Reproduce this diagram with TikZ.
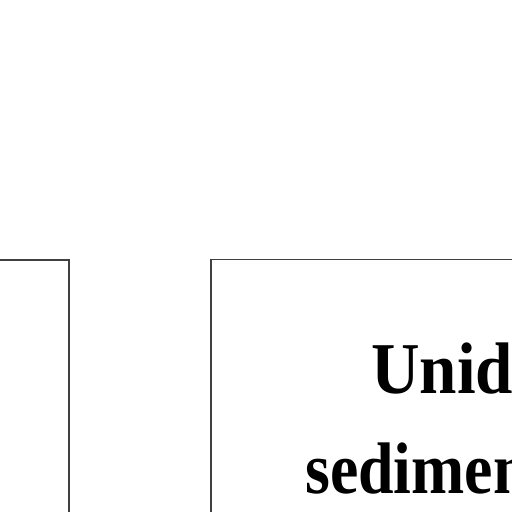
\documentclass[tikz,border=0pt]{standalone}
\usepackage{fontspec}
\setmainfont{Liberation Serif}
\tikzset{
  caja/.style={draw=black!75, line width=1.6pt},
  rotulo/.style={inner sep=0pt, anchor=base west, font=\bfseries\fontsize{73}{80}\selectfont}
}
\newcommand{\estrecho}[2]{\scalebox{#1}[1]{#2}}
\begin{document}
\begin{tikzpicture}[x=1pt,y=-1pt]
    \useasboundingbox (0,0) rectangle (512,512);
    \clip (0,0) rectangle (512,512);

    % Caja izquierda (solo se ve la esquina superior derecha)
    \draw[caja] (-10,260) -- (69,260) -- (69,530);

    % Caja derecha con el texto
    \draw[caja] (211,530) -- (211,259.5) -- (600,259.5);
    \node[rotulo] (unid) at (371,393) {\estrecho{0.92}{Unid}};
    \node[rotulo] (sedim) at (305,493) {\estrecho{0.875}{sedimen}};

\end{tikzpicture}
\end{document}
